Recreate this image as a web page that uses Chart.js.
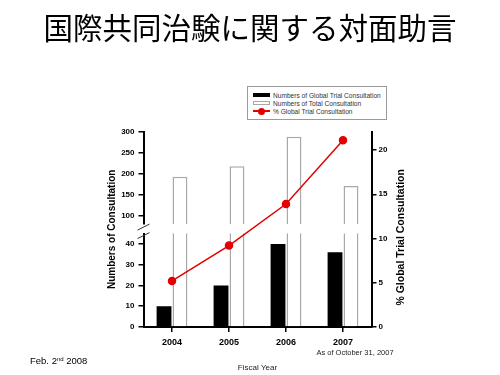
<!DOCTYPE html>
<html>
<head>
<meta charset="utf-8">
<script src="https://cdn.jsdelivr.net/npm/chart.js@4.4.1/dist/chart.umd.min.js"></script>
<style>
  html, body { margin: 0; padding: 0; background: #fff; }
  #wrap { position: relative; width: 500px; height: 375px; overflow: hidden; }
  #chart { position: absolute; left: 0; top: 0; }
  #legend { position: absolute; left: 247px; top: 86px; width: 140px; height: 34px; box-sizing: border-box;
            border: 1px solid #9a9a9a; padding-top: 4px; background: #fff;
            font: 6.6px "Liberation Sans", Arial, sans-serif; color: #333; }
  .item { display: flex; align-items: center; height: 8px; margin-left: 5px; white-space: nowrap; }
  .sym { position: relative; width: 17px; height: 8px; margin-right: 3px; flex: none; }
  .sym .rect { position: absolute; left: 0; top: 2px; width: 17px; height: 4px; box-sizing: border-box; }
  .sym .ln { position: absolute; left: 0; top: 3px; width: 17px; height: 2px; }
  .sym .dot { position: absolute; left: 5px; top: 0.5px; width: 7px; height: 7px; border-radius: 50%; }
  #note { position: absolute; left: 30px; top: 355px; font: 9.5px "Liberation Sans", Arial, sans-serif; color: #000; line-height: 12px; }
  #note sup { font-size: 6px; vertical-align: 3px; line-height: 0; }
</style>
</head>
<body>
<div id="wrap">
  <canvas id="chart" width="500" height="375"></canvas>
  <div id="legend"></div>
  <div id="note">Feb. 2<sup>nd</sup> 2008</div>
</div>
<script>
// ---- data ----
const chartTitle = '国際共同治験に関する対面助言';
const years = ['2004', '2005', '2006', '2007'];
const globalTrial = [10, 20, 40, 36];
const totalConsult = [193, 218, 288, 171];
const globalPct = [5.2, 9.2, 13.9, 21.1];
const lowerTicks = [0, 10, 20, 30, 40];
const upperTicks = [100, 150, 200, 250, 300];
const pctTicks = [0, 5, 10, 15, 20];
const seriesNames = ['Numbers of Global Trial Consultation', 'Numbers of Total Consultation', '% Global Trial Consultation'];
const leftTitle = 'Numbers of Consultation';
const rightTitle = '% Global Trial Consultation';
const xTitle = 'Fiscal Year';
const asOfNote = 'As of October 31, 2007';

const FONT = '"Liberation Sans", Arial, sans-serif';
Chart.defaults.font.family = FONT;
Chart.defaults.color = '#000';

const RED = '#e30000';
const GREY = '#a8a8a8';

const fixTicks = arr => scale => { scale.ticks = arr.map(v => ({ value: v })); };

const decorPlugin = {
  id: 'decor',
  afterDraw(chart) {
    const ctx = chart.ctx;
    const ca = chart.chartArea;
    const sHi = chart.scales.yHigh, sLo = chart.scales.yLow, sR = chart.scales.yPct, sX = chart.scales.x;
    ctx.save();
    // axis break marks
    ctx.strokeStyle = '#333';
    ctx.lineWidth = 1;
    [sHi.bottom + 3, sLo.top + 2].forEach(y => {
      ctx.beginPath();
      ctx.moveTo(ca.left - 6, y + 3);
      ctx.lineTo(ca.left + 6, y - 3);
      ctx.stroke();
    });
    // right axis title (reads bottom to top)
    ctx.translate(sR.left + 30, (ca.top + ca.bottom) / 2 + 8);
    ctx.rotate(-Math.PI / 2);
    ctx.font = 'bold 10.5px ' + FONT;
    ctx.textAlign = 'center';
    ctx.textBaseline = 'middle';
    ctx.fillStyle = '#000';
    ctx.fillText(rightTitle, 0, 0);
    ctx.restore();
    // as-of note under the last year
    ctx.save();
    ctx.font = '7.5px ' + FONT;
    ctx.textAlign = 'center';
    ctx.textBaseline = 'middle';
    ctx.fillStyle = '#222';
    ctx.fillText(asOfNote, sX.getPixelForValue(years.length - 1) + 12, ca.bottom + 25.5);
    ctx.restore();
  }
};

const barCommon = { categoryPercentage: 0.56, barPercentage: 0.93, clip: 0, order: 1 };

const chart = new Chart(document.getElementById('chart'), {
  data: {
    labels: years,
    datasets: [
      Object.assign({ type: 'bar', label: seriesNames[0], data: globalTrial, yAxisID: 'yLow', stack: 'global',
        backgroundColor: '#000', borderWidth: 0 }, barCommon),
      Object.assign({ type: 'bar', label: seriesNames[1], data: totalConsult, yAxisID: 'yLow', stack: 'total',
        backgroundColor: '#fff', borderColor: GREY, borderWidth: 1.5 }, barCommon),
      Object.assign({ type: 'bar', label: seriesNames[1], data: totalConsult, yAxisID: 'yHigh', stack: 'total',
        backgroundColor: '#fff', borderColor: GREY, borderWidth: 1.5, hideInLegend: true }, barCommon),
      { type: 'line', label: seriesNames[2], data: globalPct, yAxisID: 'yPct', order: 0,
        borderColor: RED, backgroundColor: RED, borderWidth: 1.5, pointRadius: 3.5, pointHoverRadius: 3.5,
        pointBackgroundColor: RED, pointBorderColor: RED, tension: 0 }
    ]
  },
  options: {
    responsive: false,
    animation: false,
    layout: { padding: 0 },
    plugins: {
      legend: { display: false },
      tooltip: { enabled: false },
      title: {
        display: true, text: chartTitle, color: '#000',
        font: { family: '"Noto Sans CJK JP"', size: 29.5, weight: 'normal' },
        padding: { top: 10, bottom: 86.3 }
      }
    },
    scales: {
      x: {
        type: 'category', offset: true,
        grid: { display: true, drawOnChartArea: false, offset: false, tickLength: 5, color: '#000', lineWidth: 1.5 },
        border: { color: '#000', width: 2 },
        ticks: { color: '#000', font: { size: 9, weight: 'bold' }, padding: 5 },
        title: { display: true, text: xTitle, color: '#222', font: { size: 8 }, padding: { top: 0, bottom: 2 } },
        afterFit: s => { s.height = 48; }
      },
      yTitle: {
        type: 'linear', position: 'left', weight: 10,
        grid: { display: false, drawTicks: false }, border: { display: false }, ticks: { display: false },
        title: { display: true, text: leftTitle, color: '#000', font: { size: 10, weight: 'bold' }, padding: { top: 106, bottom: 0 } },
        afterFit: s => { s.width = 117; }
      },
      yHigh: {
        type: 'linear', position: 'left', stack: 'left', stackWeight: 92.4, weight: 3, stacked: false,
        min: 80, max: 300, afterBuildTicks: fixTicks(upperTicks),
        grid: { drawOnChartArea: false, tickLength: 5, color: '#000', lineWidth: 1.5 },
        border: { color: '#000', width: 2 },
        ticks: { color: '#000', font: { size: 8, weight: 'bold' }, padding: 4 },
        afterFit: s => { s.width = 26.5; }
      },
      yGap: {
        type: 'linear', position: 'left', stack: 'left', stackWeight: 9.5, weight: 2, stacked: false,
        grid: { display: false, drawTicks: false }, border: { display: false }, ticks: { display: false },
        afterFit: s => { s.width = 26.5; }
      },
      yLow: {
        type: 'linear', position: 'left', stack: 'left', stackWeight: 93.4, weight: 1, stacked: false,
        min: 0, max: 45, afterBuildTicks: fixTicks(lowerTicks),
        grid: { drawOnChartArea: false, tickLength: 5, color: '#000', lineWidth: 1.5 },
        border: { color: '#000', width: 2 },
        ticks: { color: '#000', font: { size: 8, weight: 'bold' }, padding: 4 },
        afterFit: s => { s.width = 26.5; }
      },
      yPct: {
        type: 'linear', position: 'right', stacked: false,
        min: 0, max: 22.07, afterBuildTicks: fixTicks(pctTicks),
        grid: { drawOnChartArea: false, tickLength: 5, color: '#000', lineWidth: 1.5 },
        border: { color: '#000', width: 2 },
        ticks: { color: '#000', font: { size: 8, weight: 'bold' }, padding: 2 },
        afterFit: s => { s.width = 128.5; }
      }
    }
  },
  plugins: [decorPlugin]
});

// HTML legend built from the chart's datasets
const legendEl = document.getElementById('legend');
chart.data.datasets.filter(ds => !ds.hideInLegend).forEach(ds => {
  const item = document.createElement('div');
  item.className = 'item';
  const sym = document.createElement('span');
  sym.className = 'sym';
  if (ds.type === 'line') {
    const ln = document.createElement('span');
    ln.className = 'ln'; ln.style.background = ds.borderColor;
    const dot = document.createElement('span');
    dot.className = 'dot'; dot.style.background = ds.backgroundColor;
    sym.appendChild(ln); sym.appendChild(dot);
  } else {
    const r = document.createElement('span');
    r.className = 'rect';
    r.style.background = ds.backgroundColor;
    if (ds.borderWidth) r.style.border = '1px solid ' + ds.borderColor;
    sym.appendChild(r);
  }
  const txt = document.createElement('span');
  txt.textContent = ds.label;
  item.appendChild(sym); item.appendChild(txt);
  legendEl.appendChild(item);
});
</script>
</body>
</html>
